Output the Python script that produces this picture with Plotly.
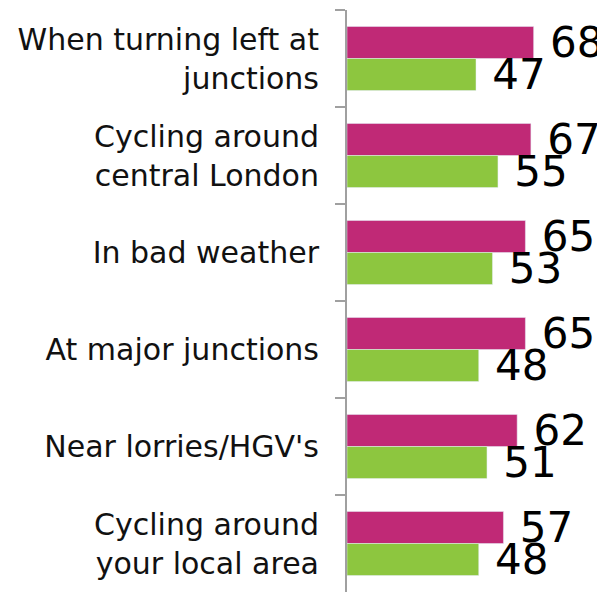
import plotly.graph_objs as go

categories = [
    "When turning left at<br>junctions",
    "Cycling around<br>central London",
    "In bad weather",
    "At major junctions",
    "Near lorries/HGV's",
    "Cycling around<br>your local area",
]
series_a = [68, 67, 65, 65, 62, 57]
series_b = [47, 55, 53, 48, 51, 48]

fig = go.Figure()
fig.add_trace(go.Bar(
    y=categories, x=series_a, orientation='h',
    marker_color='#C02976',
    text=series_a, texttemplate=' %{text}', textposition='outside',
    textfont=dict(size=42, color='black'),
    cliponaxis=False,
))
fig.add_trace(go.Bar(
    y=categories, x=series_b, orientation='h',
    marker_color='#8DC63F',
    text=series_b, texttemplate=' %{text}', textposition='outside',
    textfont=dict(size=42, color='black'),
    cliponaxis=False,
))

# page body keeps its default 8px margin, so the figure is 8px smaller
fig.update_layout(
    width=597, height=584,
    barmode='group',
    bargap=0.34, bargroupgap=0,
    showlegend=False,
    plot_bgcolor='white', paper_bgcolor='white',
    font=dict(family='DejaVu Sans', size=30, color='#111111'),
    margin=dict(l=339, r=0, t=2, b=0, autoexpand=False),
)
fig.update_traces(constraintext='none')
fig.update_xaxes(range=[0, 94], visible=False)
fig.update_yaxes(
    autorange='reversed', automargin=False,
    showline=True, linecolor='#A0A0A0', linewidth=2,
    ticks='outside', tickson='boundaries', ticklen=10, tickcolor='#A0A0A0', tickwidth=2,
    ticklabelstandoff=20,
    showgrid=False,
)

fig.write_html("out.html")
